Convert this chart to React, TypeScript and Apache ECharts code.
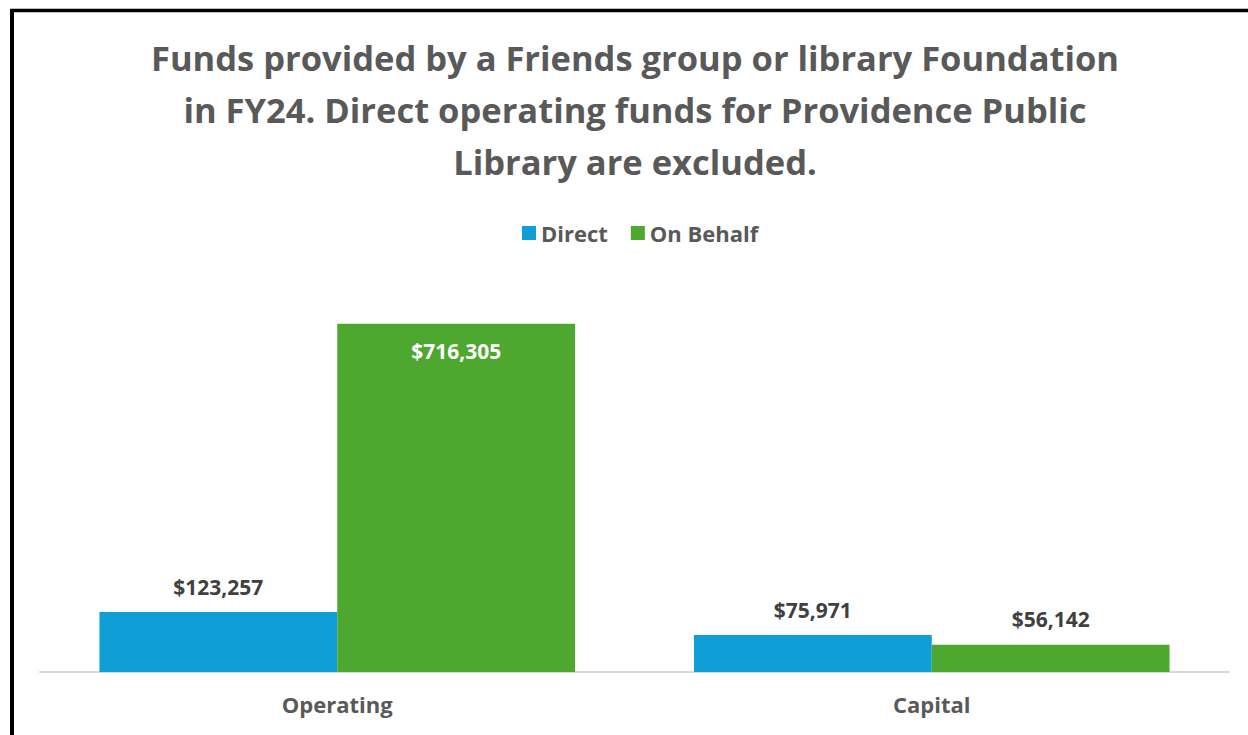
import React, { useEffect, useRef } from "react";
import * as echarts from "echarts";

const categories = ["Operating", "Capital"];
const seriesNames = ["Direct", "On Behalf"];
const directValues = [123257, 75971];
const onBehalfValues = [716305, 56142];
const titleLines = [
  "Funds provided by a Friends group or library Foundation",
  "in FY24. Direct operating funds for Providence Public",
  "Library are excluded.",
];

const FONT = "'Open Sans', sans-serif";
const fmt = (v: number) => "$" + v.toLocaleString("en-US");

export default function App() {
  const ref = useRef<HTMLDivElement>(null);
  useEffect(() => {
    if (!ref.current) return;
    document.body.style.overflow = "hidden";
    const chart = echarts.init(ref.current, undefined, { renderer: "svg" });
    chart.setOption({
      animation: false,
      backgroundColor: "#ffffff",
      title: {
        text: titleLines.join("\n"),
        left: 630,
        textAlign: "center",
        top: 26,
        textStyle: {
          fontFamily: FONT,
          fontWeight: "bold",
          fontSize: 34.5,
          lineHeight: 52,
          color: "#595959",
        },
      },
      legend: {
        top: 217,
        left: 517,
        itemWidth: 14,
        itemHeight: 14,
        itemGap: 23,
        icon: "rect",
        data: seriesNames,
        textStyle: {
          fontFamily: FONT,
          fontWeight: "bold",
          fontSize: 22,
          color: "#595959",
        },
      },
      graphic: [
        {
          type: "line",
          shape: { x1: 12, y1: 9, x2: 12, y2: 735 },
          style: { stroke: "#000000", lineWidth: 4 },
          silent: true,
        },
        {
          type: "line",
          shape: { x1: 10, y1: 10.5, x2: 1248, y2: 10.5 },
          style: { stroke: "#000000", lineWidth: 3.5 },
          silent: true,
        },
      ],
      grid: { left: 40, right: 19, top: 283, bottom: 63 },
      xAxis: {
        type: "category",
        data: categories,
        axisLine: { lineStyle: { color: "#d9d9d9", width: 2 } },
        axisTick: { show: false },
        axisLabel: {
          margin: 21,
          fontFamily: FONT,
          fontWeight: "bold",
          fontSize: 22,
          color: "#595959",
        },
      },
      yAxis: {
        type: "value",
        min: 0,
        max: 800000,
        show: false,
        splitLine: { show: false },
      },
      series: [
        {
          name: seriesNames[0],
          type: "bar",
          data: directValues,
          barGap: "0%",
          barCategoryGap: "20%",
          itemStyle: { color: "#0F9ED5" },
          label: {
            show: true,
            position: "top",
            distance: 15,
            formatter: (p: any) => fmt(p.value),
            fontFamily: FONT,
            fontWeight: "bold",
            fontSize: 21,
            color: "#404040",
          },
        },
        {
          name: seriesNames[1],
          type: "bar",
          data: onBehalfValues.map((v, i) =>
            i === 0
              ? { value: v, label: { position: "insideTop", distance: 17, color: "#ffffff" } }
              : { value: v }
          ),
          barGap: "0%",
          barCategoryGap: "20%",
          itemStyle: { color: "#4EA72E" },
          label: {
            show: true,
            position: "top",
            distance: 15,
            formatter: (p: any) => fmt(p.value),
            fontFamily: FONT,
            fontWeight: "bold",
            fontSize: 21,
            color: "#404040",
          },
        },
      ],
    });
    return () => chart.dispose();
  }, []);
  return (
    <div
      ref={ref}
      style={{ position: "fixed", left: 0, top: 0, width: 1248, height: 735 }}
    />
  );
}
